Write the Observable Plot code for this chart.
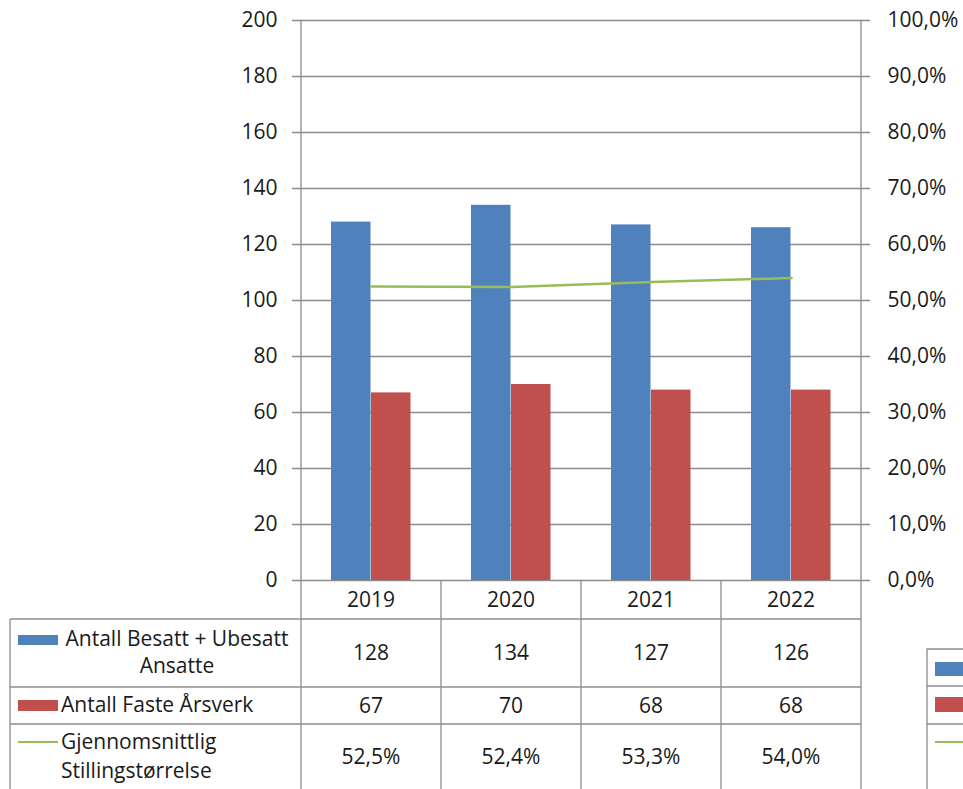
<!DOCTYPE html>
<html>
<head>
<meta charset="utf-8">
<script src="https://cdn.jsdelivr.net/npm/d3@7"></script>
<script src="https://cdn.jsdelivr.net/npm/@observablehq/plot@0.6"></script>
<style>
  html, body { margin: 0; padding: 0; background: #fff; }
  #chart svg { display: block; }
</style>
</head>
<body>
<div id="chart"></div>
<script>
const years = ["2019", "2020", "2021", "2022"];
const besatt = [128, 134, 127, 126];
const faste = [67, 70, 68, 68];
const stilling = [52.5, 52.4, 53.3, 54.0];
const yTicks = [0, 20, 40, 60, 80, 100, 120, 140, 160, 180, 200];
const pctTicks = [0, 10, 20, 30, 40, 50, 60, 70, 80, 90, 100];
const seriesLabels = [["Antall Besatt + Ubesatt", "Ansatte"], ["Antall Faste Årsverk"], ["Gjennomsnittlig", "Stillingstørrelse"]];

const BLUE = "#4F81BD", RED = "#C0504D", GREEN = "#9BBB59";
const GRID = "#8c8c8c", BORDER = "#8c8c8c";
const FONT = "'Open Sans', Lato, sans-serif";
const FS = 21;
const TXT = "#1a1a1a";

const rows = years.map((y, i) => ({year: y, besatt: besatt[i], faste: faste[i], stilling: stilling[i]}));
const fmtPct = v => v.toFixed(1).replace(".", ",") + "%";

const W = 963, H = 789;
const plot = Plot.plot({
  width: W, height: H,
  marginLeft: 300, marginRight: 101, marginTop: 20, marginBottom: 209,
  style: {fontFamily: FONT, fontSize: FS + "px", color: TXT, background: "#fff"},
  x: {domain: years, padding: 0, axis: null},
  y: {domain: [0, 200], axis: null},
  marks: [
    Plot.ruleY(yTicks, {y: d => d, stroke: GRID, strokeWidth: 1.3, insetLeft: -8, insetRight: -8}),
    Plot.barY(rows, {x: "year", y: "besatt", fill: BLUE, insetLeft: 30, insetRight: 70.5}),
    Plot.barY(rows, {x: "year", y: "faste", fill: RED, insetLeft: 70, insetRight: 30.5}),
    Plot.line(rows, {x: "year", y: d => d.stilling * 2, stroke: GREEN, strokeWidth: 2.5}),
    Plot.text(yTicks, {y: d => d, frameAnchor: "left", dx: -23, textAnchor: "end", text: d => String(d), fontSize: FS, fill: TXT}),
    Plot.text(pctTicks, {y: d => d * 2, frameAnchor: "right", dx: 25, textAnchor: "start", text: d => fmtPct(d), fontSize: FS, fill: TXT})
  ]
});
document.getElementById("chart").appendChild(plot);

// Data table below the chart, positioned with the plot's own scales
const xs = plot.scale("x");
const ys = plot.scale("y");
const bw = xs.bandwidth;
const left = xs.apply(years[0]);
const right = xs.apply(years[years.length - 1]) + bw;
const y0 = ys.apply(0), yTop = ys.apply(200);
const rowY = [y0, 619, 687, 724, H];
const svg = d3.select(plot);
const g = svg.append("g").attr("font-family", FONT).attr("font-size", FS).attr("fill", TXT);

// vertical axis lines & column lines
g.append("line").attr("x1", left).attr("x2", left).attr("y1", yTop).attr("y2", H).attr("stroke", BORDER).attr("stroke-width", 1.3);
g.append("line").attr("x1", right).attr("x2", right).attr("y1", yTop).attr("y2", H).attr("stroke", BORDER).attr("stroke-width", 1.3);
years.slice(1).forEach(yr => {
  const x = xs.apply(yr);
  g.append("line").attr("x1", x).attr("x2", x).attr("y1", y0).attr("y2", H).attr("stroke", BORDER).attr("stroke-width", 1.3);
});
// horizontal row lines
[619, 687, 724].forEach(y => {
  g.append("line").attr("x1", 10).attr("x2", right).attr("y1", y).attr("y2", y).attr("stroke", BORDER).attr("stroke-width", 1.3);
});
g.append("line").attr("x1", 10).attr("x2", 10).attr("y1", 619).attr("y2", H).attr("stroke", BORDER).attr("stroke-width", 1.3);

// header years
years.forEach(yr => {
  g.append("text").attr("x", xs.apply(yr) + bw / 2).attr("y", (rowY[0] + rowY[1]) / 2).attr("dy", "0.35em").attr("text-anchor", "middle").text(yr);
});
// values
const cols = [besatt.map(String), faste.map(String), stilling.map(fmtPct)];
cols.forEach((vals, r) => {
  const cy = r === 2 ? 757 : (rowY[r + 1] + rowY[r + 2]) / 2;
  vals.forEach((v, i) => {
    g.append("text").attr("x", xs.apply(years[i]) + bw / 2).attr("y", cy).attr("dy", "0.35em").attr("text-anchor", "middle").text(v);
  });
});
// row labels with legend keys
g.append("rect").attr("x", 18).attr("y", 635).attr("width", 40).attr("height", 10).attr("fill", BLUE);
g.append("text").attr("x", 177).attr("y", 639).attr("dy", "0.35em").attr("text-anchor", "middle").text(seriesLabels[0][0]);
g.append("text").attr("x", 177).attr("y", 666).attr("dy", "0.35em").attr("text-anchor", "middle").text(seriesLabels[0][1]);
g.append("rect").attr("x", 18).attr("y", 700).attr("width", 40).attr("height", 11).attr("fill", RED);
g.append("text").attr("x", 61).attr("y", 705).attr("dy", "0.35em").attr("text-anchor", "start").text(seriesLabels[1][0]);
g.append("line").attr("x1", 18).attr("x2", 58).attr("y1", 742).attr("y2", 742).attr("stroke", GREEN).attr("stroke-width", 2);
g.append("text").attr("x", 61).attr("y", 742).attr("dy", "0.35em").attr("text-anchor", "start").text(seriesLabels[2][0]);
g.append("text").attr("x", 61).attr("y", 771).attr("dy", "0.35em").attr("text-anchor", "start").text(seriesLabels[2][1]);

// partial legend box cut at the right edge
const lg = svg.append("g");
lg.append("path").attr("d", `M${W},649H927V${H}`).attr("fill", "none").attr("stroke", BORDER).attr("stroke-width", 1.3);
[686, 724].forEach(y => lg.append("line").attr("x1", 927).attr("x2", W).attr("y1", y).attr("y2", y).attr("stroke", BORDER).attr("stroke-width", 1.3));
lg.append("rect").attr("x", 935).attr("y", 662).attr("width", 30).attr("height", 14).attr("fill", BLUE);
lg.append("rect").attr("x", 935).attr("y", 697).attr("width", 30).attr("height", 15).attr("fill", RED);
lg.append("line").attr("x1", 935).attr("x2", W).attr("y1", 742).attr("y2", 742).attr("stroke", GREEN).attr("stroke-width", 2);
</script>
</body>
</html>
